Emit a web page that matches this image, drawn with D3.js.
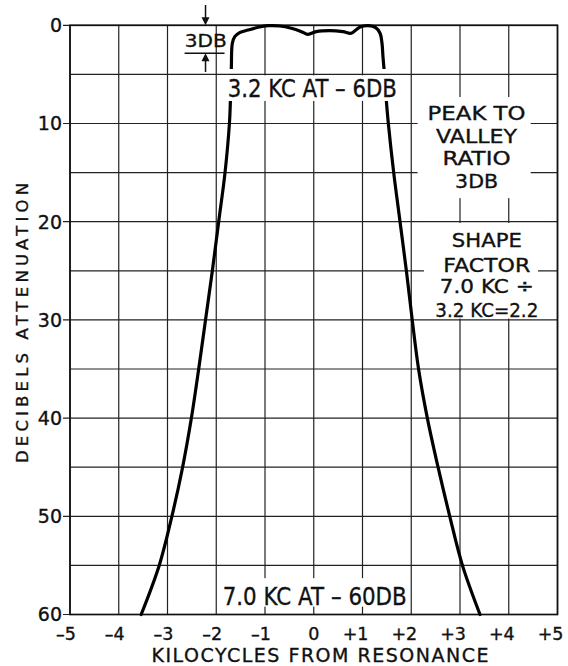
<!DOCTYPE html>
<html>
<head>
<meta charset="utf-8">
<script src="https://cdn.jsdelivr.net/npm/d3@7"></script>
<style>
  body { margin: 0; background: #fff; }
  text { font-family: "DejaVu Sans", sans-serif; fill: #111; stroke: #111; stroke-width: 0.35; }
</style>
</head>
<body>
<svg width="568" height="666"></svg>
<script>
// selectivity curve (kc from resonance, db attenuation)
const curveKc = [-3.54, -3.17, -2.91, -2.69, -2.51, -2.36, -2.22, -2.08, -1.95, -1.82, -1.73, -1.71, -1.69,
  -1.67, -1.62, -1.52, -1.35, -1.14, -0.94, -0.70, -0.46, -0.25, -0.12, 0.05, 0.33, 0.60, 0.77,
  0.94, 1.12, 1.27, 1.36, 1.40, 1.42, 1.44, 1.49, 1.53, 1.64, 1.77, 1.90, 2.02, 2.15, 2.33, 2.55, 2.79, 3.05, 3.41];
const curveDb = [60, 55, 50, 45, 40, 35, 30, 25, 20, 15, 10, 7.75, 4.2,
  1.83, 1.16, 0.75, 0.48, 0.2, 0.04, 0.07, 0.3, 0.65, 0.92, 0.65, 0.55, 0.65, 0.81,
  0.2, 0.04, 0.24, 0.81, 1.83, 3.2, 4.37, 7.75, 10, 15, 20, 25, 30, 35, 40, 45, 50, 55, 60];

const xTickValues = [-5, -4, -3, -2, -1, 0, 1, 2, 3, 4, 5];
const xTickLabels = ["–5", "–4", "–3", "–2", "–1", "0", "+1", "+2", "+3", "+4", "+5"];
const yGridValues = [0, 5, 10, 15, 20, 25, 30, 35, 40, 45, 50, 55, 60];
const yTickValues = [0, 10, 20, 30, 40, 50, 60];

const peakLines = ["PEAK TO", "VALLEY", "RATIO", "3DB"];
const shapeLines = ["SHAPE", "FACTOR", "7.0 KC ÷", "3.2 KC=2.2"];

const svg = d3.select("svg");

const x = d3.scaleLinear().domain([-5, 5]).range([70, 557.5]);
const y = d3.scaleLinear().domain([0, 60]).range([25.3, 614.5]);

// grid
svg.append("g")
  .selectAll("line")
  .data(xTickValues)
  .join("line")
  .attr("x1", (d) => x(d))
  .attr("x2", (d) => x(d))
  .attr("y1", y(0))
  .attr("y2", y(60))
  .attr("stroke", "#222")
  .attr("stroke-width", 1.2);

svg.append("g")
  .selectAll("line")
  .data(yGridValues)
  .join("line")
  .attr("x1", (d) => (d % 10 === 0 ? x(-5) - 7 : x(-5)))
  .attr("x2", x(5))
  .attr("y1", (d) => y(d))
  .attr("y2", (d) => y(d))
  .attr("stroke", "#222")
  .attr("stroke-width", 1.2);

svg.append("rect")
  .attr("x", x(-5))
  .attr("y", y(0))
  .attr("width", x(5) - x(-5))
  .attr("height", y(60) - y(0))
  .attr("fill", "none")
  .attr("stroke", "#111")
  .attr("stroke-width", 1.7);

// white patches behind the lettering
function patch(k0, k1, d0, d1) {
  svg.append("rect")
    .attr("x", x(k0))
    .attr("y", y(d0))
    .attr("width", x(k1) - x(k0))
    .attr("height", y(d1) - y(d0))
    .attr("fill", "#fff");
}
patch(-1.85, 1.81, 5.1, 7.7);
patch(-1.95, 1.97, 56.3, 59.2);
patch(2.13, 4.45, 7.3, 17.6);
patch(2.26, 4.6, 20.13, 29.86);

// curve, with the drafting gap under the -6db note
const defs = svg.append("defs");
const clip = defs.append("clipPath").attr("id", "gap");
clip.append("rect").attr("x", 0).attr("y", 0).attr("width", 568).attr("height", y(4.45));
clip.append("rect").attr("x", 0).attr("y", y(7.7)).attr("width", 568).attr("height", 666);

const line = d3.line()
  .x((d, i) => x(curveKc[i]))
  .y((d) => y(d))
  .curve(d3.curveCatmullRom.alpha(0.5));

svg.append("path")
  .datum(curveDb)
  .attr("d", line)
  .attr("clip-path", "url(#gap)")
  .attr("fill", "none")
  .attr("stroke", "#000")
  .attr("stroke-width", 3.2)
  .attr("stroke-linecap", "round")
  .attr("stroke-linejoin", "round");

// tick labels
svg.append("g")
  .selectAll("text")
  .data(yTickValues)
  .join("text")
  .attr("x", 62)
  .attr("y", (d) => y(d))
  .attr("dy", "0.36em")
  .attr("text-anchor", "end")
  .attr("font-size", 19)
  .text((d) => d);

svg.append("g")
  .selectAll("text")
  .data(xTickValues)
  .join("text")
  .attr("x", (d) => (d === 0 ? x(d) : x(d) + 6))
  .attr("y", 640)
  .attr("text-anchor", (d) => (d === 0 ? "middle" : "end"))
  .attr("font-size", 17.5)
  .text((d, i) => xTickLabels[i]);

// axis titles
svg.append("text")
  .attr("x", 320)
  .attr("y", 662)
  .attr("text-anchor", "middle")
  .attr("font-size", 19)
  .attr("textLength", 337)
  .text("KILOCYCLES FROM RESONANCE");

svg.append("text")
  .attr("transform", "translate(28,323) rotate(-90)")
  .attr("text-anchor", "middle")
  .attr("font-size", 16.5)
  .attr("textLength", 280)
  .text("DECIBELS ATTENUATION");

// notes
function note(k, d, str, size, len) {
  svg.append("text")
    .attr("x", x(k))
    .attr("y", y(d))
    .attr("text-anchor", "middle")
    .attr("font-size", size)
    .attr("textLength", len)
    .attr("lengthAdjust", "spacingAndGlyphs")
    .text(str);
}
note(-0.03, 7.3, "3.2 KC AT – 6DB", 24, 169);
note(0.02, 59.0, "7.0 KC AT – 60DB", 25, 184);
note(-2.215, 2.21, "3DB", 18, 42);

const peakDb = [9.64, 11.99, 14.23, 16.57];
const peakLen = [98, 81, 68, 43];
peakLines.forEach((s, i) => note(3.34, peakDb[i], s, 19, peakLen[i]));

const shapeDb = [22.58, 25.12, 27.26, 29.7];
const shapeLen = [70, 87, 94, 103];
shapeLines.forEach((s, i) => note(3.55, shapeDb[i], s, 19, shapeLen[i]));

// 3db marker: bar and two arrows
svg.append("line")
  .attr("x1", x(-2.65)).attr("x2", x(-1.83))
  .attr("y1", y(2.85)).attr("y2", y(2.85))
  .attr("stroke", "#111").attr("stroke-width", 1.5);

function arrow(k, from, to) {
  const ax = x(k);
  const y0 = y(from);
  const y1 = y(to);
  const dir = y1 > y0 ? 1 : -1;
  svg.append("line")
    .attr("x1", ax).attr("x2", ax)
    .attr("y1", y0).attr("y2", y1 - dir * 4)
    .attr("stroke", "#111").attr("stroke-width", 1.5);
  svg.append("path")
    .attr("d", `M${ax},${y1} L${ax - 4},${y1 - dir * 8} L${ax + 4},${y1 - dir * 8} Z`)
    .attr("fill", "#111");
}
arrow(-2.22, -2.07, 0);
arrow(-2.22, 4.75, 2.85);
</script>
</body>
</html>
